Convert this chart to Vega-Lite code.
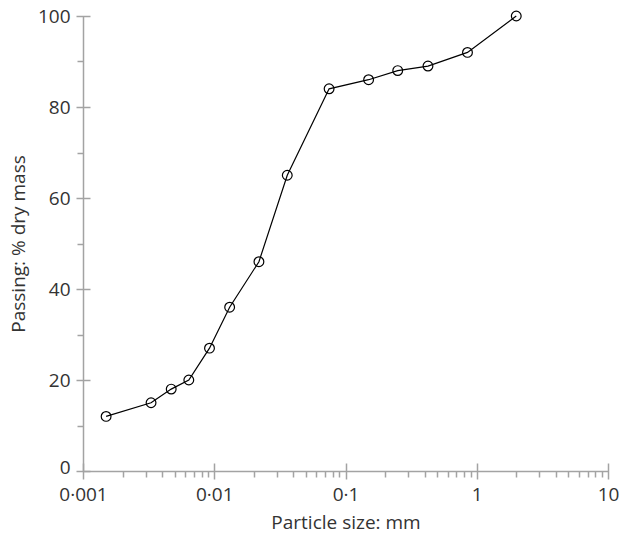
{
  "$schema": "https://vega.github.io/schema/vega-lite/v6.json",
  "width": 525,
  "height": 455,
  "autosize": {"type": "none"},
  "padding": {"left": 83, "top": 16, "right": 12, "bottom": 69},
  "background": "white",
  "config": {
    "view": {"stroke": null},
    "font": "Open Sans",
    "axis": {
      "grid": false,
      "domainColor": "#a3a3a3",
      "tickColor": "#a3a3a3",
      "domainWidth": 1.5,
      "tickWidth": 1.5,
      "labelColor": "#333333",
      "titleColor": "#333333",
      "labelFont": "Open Sans",
      "titleFont": "Open Sans",
      "labelFontSize": 19,
      "titleFontSize": 19,
      "titleFontWeight": "normal"
    }
  },
  "data": {
    "values": [
      {"size": 0.0015, "passing": 12},
      {"size": 0.0033, "passing": 15},
      {"size": 0.0047, "passing": 18},
      {"size": 0.0064, "passing": 20},
      {"size": 0.0092, "passing": 27},
      {"size": 0.0131, "passing": 36},
      {"size": 0.0219, "passing": 46},
      {"size": 0.036, "passing": 65},
      {"size": 0.075, "passing": 84},
      {"size": 0.15, "passing": 86},
      {"size": 0.25, "passing": 88},
      {"size": 0.425, "passing": 89},
      {"size": 0.85, "passing": 92},
      {"size": 2.0, "passing": 100}
    ]
  },
  "layer": [
    {
      "mark": {"type": "line", "color": "black", "strokeWidth": 1.2},
      "encoding": {
        "x": {
          "field": "size", "type": "quantitative",
          "scale": {"type": "log", "domain": [0.001, 10], "nice": false},
          "axis": {
            "orient": "bottom",
            "values": [0.001, 0.01, 0.1, 1, 10],
            "offset": -8,
            "tickSize": 16,
            "domain": false,
            "labelFlush": false,
            "labelPadding": 6,
            "labelExpr": "replace(format(datum.value, '~g'), '.', '·')",
            "title": "Particle size: mm",
            "titlePadding": 9
          }
        },
        "y": {
          "field": "passing", "type": "quantitative",
          "scale": {"domain": [0, 100], "nice": false},
          "axis": {
            "orient": "left",
            "values": [0, 20, 40, 60, 80, 100],
            "offset": -7,
            "tickSize": 14,
            "domain": false,
            "labelFlush": false,
            "labelPadding": 6,
            "labelOffset": {"expr": "datum.value == 0 ? -4 : 0"},
            "title": "Passing: % dry mass",
            "titlePadding": 9
          }
        }
      }
    },
    {
      "mark": {"type": "point", "shape": "circle", "filled": false, "color": "black", "strokeWidth": 1.2, "size": 95, "opacity": 1},
      "encoding": {
        "x": {
          "field": "size", "type": "quantitative",
          "scale": {"type": "log", "domain": [0.001, 10], "nice": false},
          "axis": {
            "orient": "bottom",
            "values": [0.002, 0.003, 0.004, 0.005, 0.006, 0.007, 0.008, 0.009, 0.02, 0.03, 0.04, 0.05, 0.06, 0.07, 0.08, 0.09, 0.2, 0.3, 0.4, 0.5, 0.6, 0.7, 0.8, 0.9, 2, 3, 4, 5, 6, 7, 8, 9],
            "tickSize": 6,
            "domain": true,
            "labels": false,
            "title": null
          }
        },
        "y": {
          "field": "passing", "type": "quantitative",
          "scale": {"domain": [0, 100], "nice": false},
          "axis": {
            "orient": "left",
            "values": [10, 30, 50, 70, 90],
            "tickSize": 6,
            "domain": true,
            "labels": false,
            "title": null
          }
        }
      }
    }
  ],
  "resolve": {"axis": {"x": "independent", "y": "independent"}}
}
